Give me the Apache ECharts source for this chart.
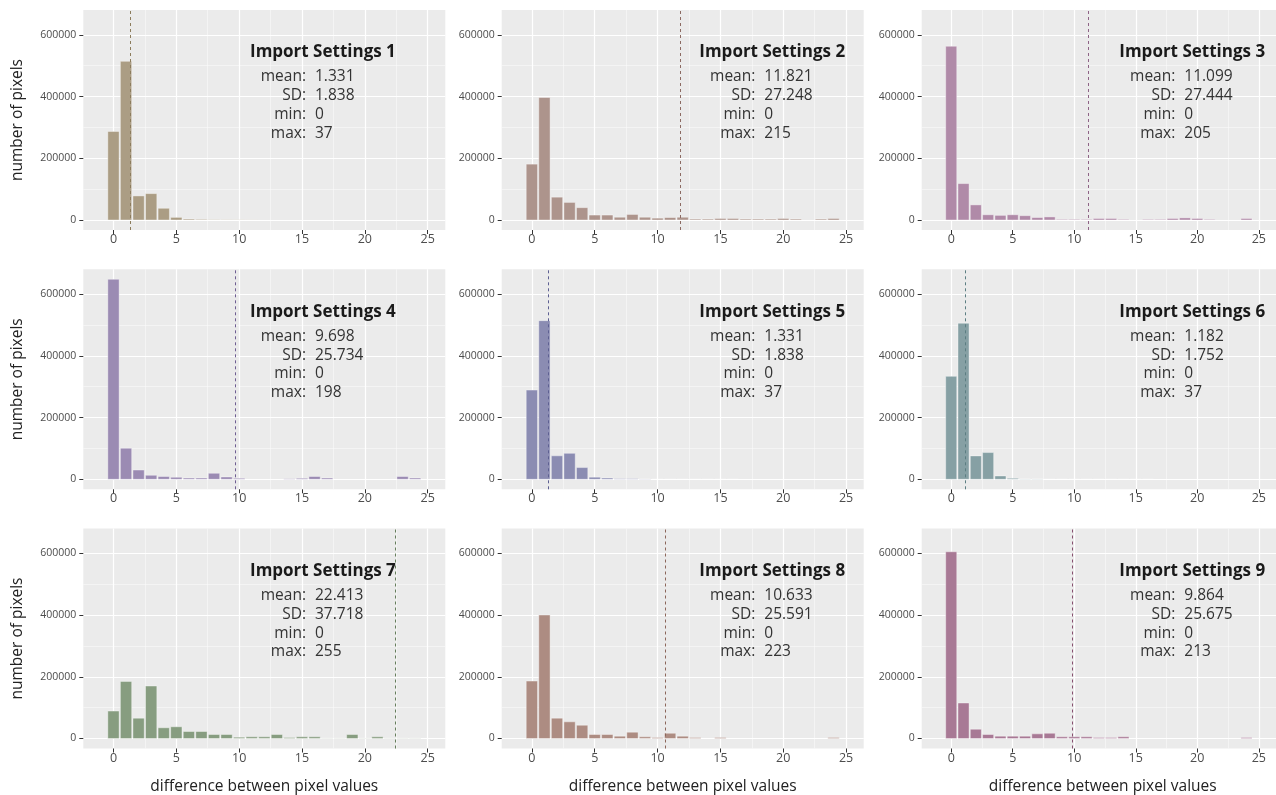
<!DOCTYPE html>
<html>
<head>
<meta charset="utf-8">
<script src="https://cdn.jsdelivr.net/npm/echarts@6.0.0/dist/echarts.min.js"></script>
<style>
html,body{margin:0;padding:0;background:#ffffff;}
#chart{width:1276px;height:795px;}
</style>
</head>
<body>
<div id="chart"></div>
<script>
// ---------- data ----------
const bins = [0,1,2,3,4,5,6,7,8,9,10,11,12,13,14,15,16,17,18,19,20,21,22,23,24];
const xTicks = [0,5,10,15,20,25];
const xMinor = [2.5,7.5,12.5,17.5,22.5];
const yTicks = [0,200000,400000,600000];
const yMinor = [100000,300000,500000];

const panelTitles = ['Import Settings 1','Import Settings 2','Import Settings 3','Import Settings 4','Import Settings 5','Import Settings 6','Import Settings 7','Import Settings 8','Import Settings 9'];
const statMean = ['1.331','11.821','11.099','9.698','1.331','1.182','22.413','10.633','9.864'];
const statSD   = ['1.838','27.248','27.444','25.734','1.838','1.752','37.718','25.591','25.675'];
const statMin  = ['0','0','0','0','0','0','0','0','0'];
const statMax  = ['37','215','205','198','37','37','255','223','213'];
const meanValues = [1.331,11.821,11.099,9.698,1.331,1.182,22.413,10.633,9.864];

const counts1 = [287000,514000,78000,85500,38000,8500,3000,2000,1000,800,600,500,0,0,0,0,0,0,0,0,0,0,0,0,0];
const counts2 = [181000,397000,74000,57000,40000,16000,16000,9000,18000,9000,6000,8000,9000,3000,3000,5000,5000,3000,3000,3000,5000,3000,0,3000,5000];
const counts3 = [563000,118000,49000,17000,15000,17000,14000,8000,10000,2000,2000,2000,5000,5000,2000,0,2000,2000,5000,7000,5000,2000,0,0,5000];
const counts4 = [648000,100700,30000,13000,9000,6500,4000,4000,19500,7500,3000,0,0,0,2000,3000,9000,4000,0,0,0,0,0,9000,4000];
const counts5 = [289000,514000,76000,84000,38000,7000,4000,1500,1500,600,500,500,400,400,400,400,400,0,0,0,0,0,0,0,0];
const counts6 = [333600,505800,75800,86600,10800,3000,1000,1000,300,300,300,300,300,300,300,300,300,0,0,0,0,0,0,0,0];
const counts7 = [88800,185000,66000,170000,34700,38000,22700,22700,13000,13000,4300,5400,5400,13000,3200,5400,5400,1000,1000,13000,1000,5400,1000,1000,1000];
const counts8 = [186000,400000,66000,54000,43000,13000,13000,7600,20600,5400,3200,17000,7600,3200,0,3000,0,0,0,0,0,0,0,0,3000];
const counts9 = [605000,115000,30000,13000,7600,7600,7600,15000,17000,5400,5400,5400,3200,3200,5400,0,0,0,0,0,0,0,0,0,3200];
const allCounts = [counts1,counts2,counts3,counts4,counts5,counts6,counts7,counts8,counts9];

const barColors  = ['#ab9d84','#ad948c','#b08aa8','#9b8bb3','#8b8cb2','#86a0a4','#879d80','#ad8c82','#a87995'];
const lineColors = ['#8c7c5c','#8c6a62','#8e6486','#6f5e92','#5e6092','#5c7e82','#667e5c','#8c665a','#86506f'];

// ---------- layout ----------
const gridLeft = [83.3, 501.7, 921.7];
const gridTop  = [10, 269.3, 528.5];
const gridW = 362, gridH = 220;
const annotX = [166.7, 197.6, 197.6];

const FONT = '"Open Sans", "Noto Sans", sans-serif';

const grids = [], xAxes = [], yAxes = [], series = [], graphics = [];

for (let i = 0; i < 9; i++) {
  const col = i % 3, row = Math.floor(i / 3);
  grids.push({
    left: gridLeft[col], top: gridTop[row], width: gridW, height: gridH,
    show: true, backgroundColor: '#ebebeb', borderWidth: 0, containLabel: false
  });
  xAxes.push({
    type: 'value', gridIndex: i, min: -2.4, max: 26.4, position: 'bottom',
    axisLine: {show: false, onZero: false},
    axisTick: {show: true, customValues: xTicks, length: 4, lineStyle: {color: '#333333', width: 1}},
    axisLabel: {show: true, customValues: xTicks, fontSize: 12.5, color: '#4d4d4d', margin: 3, fontFamily: FONT,
      formatter: v => String(v)},
    splitLine: {show: false}
  });
  yAxes.push({
    type: 'value', gridIndex: i, min: -32400, max: 680400, position: 'left',
    axisLine: {show: false, onZero: false},
    axisTick: {show: true, customValues: yTicks, length: 4, lineStyle: {color: '#333333', width: 1}},
    axisLabel: {show: true, customValues: yTicks, fontSize: 10.5, color: '#4d4d4d', margin: 7, fontFamily: FONT,
      formatter: v => String(v)},
    splitLine: {show: false}
  });

  // gridlines (drawn beneath the bars)
  const gl = [];
  xMinor.forEach(v => gl.push({xAxis: v, lineStyle: {color: '#fafafa', width: 0.6, type: 'solid'}}));
  yMinor.forEach(v => gl.push({yAxis: v, lineStyle: {color: '#fafafa', width: 0.6, type: 'solid'}}));
  xTicks.forEach(v => gl.push({xAxis: v, lineStyle: {color: '#ffffff', width: 1.2, type: 'solid'}}));
  yTicks.forEach(v => gl.push({yAxis: v, lineStyle: {color: '#ffffff', width: 1.2, type: 'solid'}}));
  series.push({
    type: 'scatter', xAxisIndex: i, yAxisIndex: i, data: [], silent: true, z: 0,
    markLine: {silent: true, z: 0, symbol: ['none','none'], label: {show: false}, animation: false, data: gl}
  });

  // bars
  const color = barColors[i];
  series.push({
    type: 'custom', xAxisIndex: i, yAxisIndex: i, z: 3,
    data: bins.map((b, k) => [b, allCounts[i][k]]),
    encode: {x: 0, y: 1},
    clip: true,
    renderItem: function (params, api) {
      const x = api.value(0), y = api.value(1);
      if (!(y > 0)) return null;
      const p0 = api.coord([x - 0.45, y]);
      const p1 = api.coord([x + 0.45, 0]);
      return {
        type: 'rect',
        shape: {x: p0[0], y: p0[1], width: p1[0] - p0[0], height: p1[1] - p0[1]},
        style: {fill: color, stroke: 'rgba(255,255,255,0.55)', lineWidth: 0.7}
      };
    },
    markLine: {
      silent: true, symbol: ['none','none'], label: {show: false}, animation: false, z: 6,
      data: [{xAxis: meanValues[i], lineStyle: {color: lineColors[i], width: 1, type: [3, 3]}}]
    }
  });

  // annotations
  const X = gridLeft[col] + annotX[col];
  const T = gridTop[row];
  graphics.push({
    type: 'text', x: X, y: T + 42.5, z: 100,
    style: {text: panelTitles[i], font: 'bold 17px ' + FONT, fill: '#1a1a1a', align: 'left', verticalAlign: 'middle'}
  });
  const labels = ['mean:', 'SD:', 'min:', 'max:'];
  const vals = [statMean[i], statSD[i], statMin[i], statMax[i]];
  for (let k = 0; k < 4; k++) {
    const yy = T + 67 + k * 18.8;
    graphics.push({
      type: 'text', x: X + 56, y: yy, z: 100,
      style: {text: labels[k], font: '15.5px ' + FONT, fill: '#333333', align: 'right', verticalAlign: 'middle'}
    });
    graphics.push({
      type: 'text', x: X + 65, y: yy, z: 100,
      style: {text: vals[k], font: '15.5px ' + FONT, fill: '#333333', align: 'left', verticalAlign: 'middle'}
    });
  }
}

// axis titles
for (let r = 0; r < 3; r++) {
  graphics.push({
    type: 'text', x: 17.5, y: gridTop[r] + gridH / 2, rotation: Math.PI / 2, z: 100,
    style: {text: 'number of pixels', font: '15.5px ' + FONT, fill: '#222222', align: 'center', verticalAlign: 'middle'}
  });
}
for (let c = 0; c < 3; c++) {
  graphics.push({
    type: 'text', x: gridLeft[c] + gridW / 2, y: 787, z: 100,
    style: {text: 'difference between pixel values', font: '15.5px ' + FONT, fill: '#222222', align: 'center', verticalAlign: 'middle'}
  });
}

const chart = echarts.init(document.getElementById('chart'), null, {renderer: 'canvas'});
chart.setOption({
  animation: false,
  backgroundColor: '#ffffff',
  grid: grids,
  xAxis: xAxes,
  yAxis: yAxes,
  series: series,
  graphic: graphics
});
</script>
</body>
</html>
